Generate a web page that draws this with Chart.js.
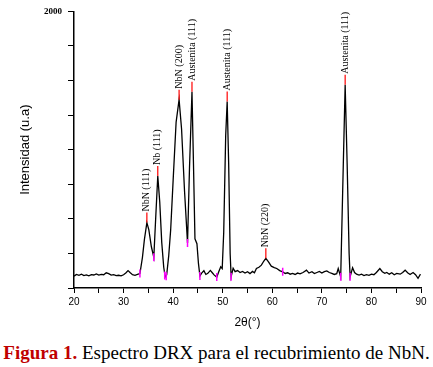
<!DOCTYPE html>
<html>
<head>
  <title>Espectro DRX NbN</title>
  <script src="https://cdn.jsdelivr.net/npm/chart.js@4.4.0/dist/chart.umd.min.js"></script>
  <style>
    body { margin: 0; background: #fff; }
    #wrap { position: relative; width: 433px; height: 335px; }
    #caption {
      position: absolute; left: 0; top: 343px; width: 433px;
      text-align: center; font: 19px "Liberation Serif", serif; line-height: 20px; color: #000;
      white-space: nowrap;
    }
    #caption b { color: #c00000; }
  </style>
</head>
<body>
  <div id="wrap"><canvas id="myChart"></canvas></div>
  <div id="caption"><b>Figura 1.</b> Espectro DRX para el recubrimiento de NbN.</div>

  <script>
    // 2theta (deg) and intensity (u.a)
    var twoTheta = [20.0, 20.5, 21.0, 21.5, 22.0, 22.5, 23.0, 23.5, 24.0, 24.5, 25.0, 25.5, 26.0, 26.5, 27.0, 27.5, 28.0, 28.5, 29.0, 29.5,
      30.0, 30.5, 30.9, 31.3, 31.8, 32.3, 32.8, 33.3, 33.8, 34.2, 34.7, 35.1, 35.6, 36.1, 36.5, 36.9, 37.3, 37.7, 38.1, 38.4,
      38.7, 39.1, 39.5, 40.0, 40.6, 41.2, 41.7, 42.3, 42.9, 43.3, 43.8, 44.1, 44.4, 44.8, 45.1, 45.4, 45.8, 46.2, 46.6, 47.0,
      47.5, 47.9, 48.3, 48.8, 49.2, 49.6, 49.9, 50.2, 50.6, 50.9, 51.2, 51.5, 51.7, 52.1, 52.5, 53.0, 53.5, 54.0, 54.5, 55.0,
      55.5, 56.0, 56.4, 56.8, 57.3, 57.8, 58.3, 58.7, 59.2, 59.8, 60.4, 60.9, 61.5, 62.1, 62.6, 63.1, 63.6, 64.1, 64.6, 65.1,
      65.6, 66.2, 66.9, 67.4, 68.0, 68.5, 69.0, 69.5, 70.0, 70.5, 71.0, 71.5, 72.0, 72.5, 73.0, 73.3, 73.8, 74.2, 74.7, 75.1,
      75.5, 75.7, 76.0, 76.2, 76.6, 77.0, 77.5, 78.0, 78.5, 79.0, 79.5, 80.0, 80.5, 81.0, 81.7, 82.2, 82.7, 83.1, 83.6, 84.1,
      84.6, 85.1, 85.8, 86.3, 86.8, 87.3, 87.8, 88.4, 88.9, 89.4, 89.9];
    var intensity = [86, 98, 92, 100, 90, 95, 88, 97, 94, 102, 93, 99, 96, 110, 104, 93, 96, 90, 92, 88,
      96, 110, 126, 112, 96, 92, 98, 104, 220, 350, 473, 420, 300, 222, 520, 810, 620, 330, 150, 79,
      95, 230, 420, 780, 1200, 1362, 1150, 700, 325, 870, 1419, 900, 356, 320, 180, 86, 110, 125, 98, 106,
      127, 110, 93, 79, 118, 153, 140, 400, 1100, 1348, 900, 250, 81, 143, 118, 126, 112, 120, 108, 118,
      104, 120, 110, 141, 150, 165, 195, 215, 190, 158, 148, 141, 126, 117, 105, 110, 100, 106, 98, 108,
      102, 112, 129, 108, 118, 104, 112, 120, 108, 118, 124, 112, 106, 98, 104, 141, 81, 700, 1470, 900,
      250, 81, 120, 146, 112, 100, 94, 100, 90, 96, 92, 100, 96, 112, 141, 118, 106, 112, 100, 110,
      96, 106, 100, 112, 129, 110, 98, 112, 96, 70, 100];

    // peak limits (magenta marks)
    var limitX = [33.3, 36.1, 38.3, 38.6, 42.9, 45.4, 48.8, 51.7, 62.1, 73.8, 75.7];
    var limitY = [104, 222, 90, 85, 325, 86, 79, 81, 117, 81, 81];

    // indexed peaks
    var peakX = [34.7, 36.9, 41.2, 43.8, 50.9, 58.7, 74.7];
    var peakY = [473, 810, 1362, 1419, 1348, 215, 1470];
    var peakLabels = ['NbN (111)', 'Nb (111)', 'NbN (200)', 'Austenita (111)', 'Austenita (111)', 'NbN (220)', 'Austenita (111)'];

    var yTickLabels = [2000];
    var xTickLabels = [20, 30, 40, 50, 60, 70, 80, 90];

    var peakLabelPlugin = {
      id: 'peakLabels',
      afterDatasetsDraw: function(chart) {
        var ctx = chart.ctx;
        var xs = chart.scales.x, ys = chart.scales.y;
        ctx.save();
        ctx.font = '10px "Liberation Serif", serif';
        ctx.fillStyle = '#000';
        ctx.textAlign = 'left';
        ctx.textBaseline = 'middle';
        peakX.forEach(function(px, i) {
          var x = xs.getPixelForValue(px);
          var y = ys.getPixelForValue(peakY[i]);
          ctx.strokeStyle = '#ff0000';
          ctx.lineWidth = 1.2;
          ctx.beginPath();
          ctx.moveTo(x, y);
          ctx.lineTo(x, y - 10);
          ctx.stroke();
          ctx.save();
          ctx.translate(x, y - 11);
          ctx.rotate(-Math.PI / 2);
          ctx.fillText(peakLabels[i], 0, 0);
          ctx.restore();
        });
        ctx.restore();
      }
    };

    var ctx = document.getElementById('myChart').getContext('2d');
    var myChart = new Chart(ctx, {
      type: 'line',
      data: {
        datasets: [
          {
            type: 'scatter',
            data: limitX.map(function(x, i) { return {x: x, y: limitY[i]}; }),
            showLine: false,
            pointStyle: 'line',
            rotation: 90,
            pointRadius: 4,
            borderColor: '#ff00ff',
            borderWidth: 1.5,
            order: 0
          },
          {
            data: twoTheta.map(function(x, i) { return {x: x, y: intensity[i]}; }),
            borderColor: '#000',
            borderWidth: 1.3,
            pointRadius: 0,
            tension: 0,
            fill: false,
            order: 1
          }
        ]
      },
      options: {
        responsive: true,
        maintainAspectRatio: false,
        animation: false,
        layout: { padding: { left: 0, right: 12, top: 9, bottom: 0 } },
        plugins: { legend: { display: false }, tooltip: { enabled: false } },
        scales: {
          x: {
            type: 'linear',
            min: 20,
            max: 90,
            afterFit: function(s) { s.height = 47; },
            border: { color: '#000', width: 1.5 },
            grid: { drawOnChartArea: false, tickLength: 5, tickColor: '#000' },
            ticks: {
              stepSize: 5,
              padding: 3,
              maxRotation: 0,
              color: '#000',
              font: { family: '"Liberation Sans", sans-serif', size: 10 },
              callback: function(v) { return xTickLabels.indexOf(v) >= 0 ? String(v) : ''; }
            },
            title: {
              display: true,
              text: '2θ(°)',
              color: '#000',
              font: { family: '"Liberation Sans", sans-serif', size: 12 },
              padding: { top: 0, bottom: 5 }
            }
          },
          y: {
            min: 0,
            max: 2000,
            afterFit: function(s) { s.width = 74; },
            border: { color: '#000', width: 1.5 },
            grid: { drawOnChartArea: false, tickLength: 6, tickColor: '#000' },
            ticks: {
              stepSize: 250,
              padding: 6,
              color: '#000',
              font: { family: '"Liberation Serif", serif', size: 9, weight: 'bold' },
              callback: function(v) { return yTickLabels.indexOf(v) >= 0 ? String(v) : ''; }
            },
            title: {
              display: true,
              text: 'Intensidad (u.a)',
              color: '#000',
              font: { family: '"Liberation Sans", sans-serif', size: 13 },
              padding: { top: 18, bottom: 0 }
            }
          }
        }
      },
      plugins: [peakLabelPlugin]
    });
  </script>
</body>
</html>
